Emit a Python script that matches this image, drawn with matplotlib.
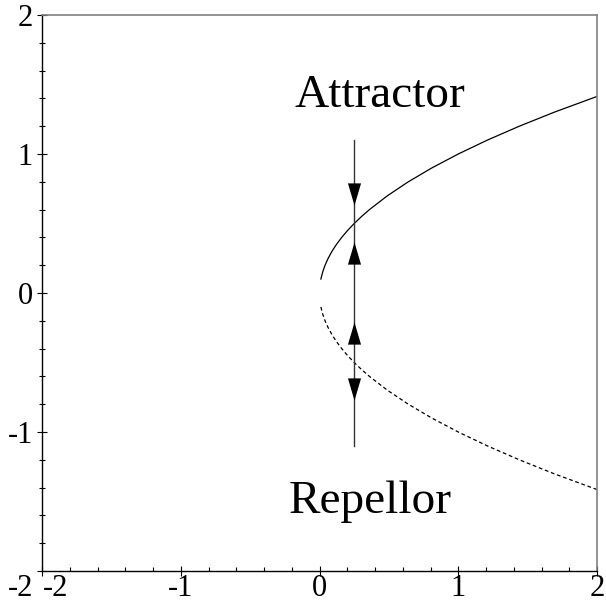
import matplotlib
matplotlib.use("Agg")
import matplotlib.pyplot as plt
from matplotlib.path import Path
import matplotlib.transforms as mtransforms

# ---- data ----
x_ticks = [-2, -1, 0, 1, 2]
y_ticks = [-2, -1, 0, 1, 2]
x_tick_labels = ["-2", "-1", "0", "1", "2"]
y_tick_labels = ["-2", "-1", "0", "1", "2"]

# upper (stable, solid) branch points
upper_x = [0.01, 0.0225, 0.04, 0.0625, 0.09, 0.1225, 0.16, 0.2025, 0.25, 0.3025, 0.36,
           0.49, 0.64, 0.81, 1.0, 1.21, 1.44, 1.69, 2.0]
upper_y = [0.10, 0.15, 0.20, 0.25, 0.30, 0.35, 0.40, 0.45, 0.50, 0.55, 0.60,
           0.70, 0.80, 0.90, 1.00, 1.10, 1.20, 1.30, 1.414]
# lower (unstable, dashed) branch
lower_x = upper_x
lower_y = [-v for v in upper_y]

# vertical flow line
flow_x = 0.25
flow_y = [-1.1, 1.1]
down_arrow_y = [0.71, -0.69]
up_arrow_y = [0.29, -0.285]

label_attractor = "Attractor"
label_repellor = "Repellor"
attractor_pos = (0.436, 1.338)
repellor_pos = (0.368, -1.583)

# ---- figure ----
plt.rcParams['font.family'] = ['Liberation Serif', 'DejaVu Serif']
fig = plt.figure(figsize=(6.06, 6.03), dpi=100)
ax = fig.add_axes([42/606, 32/603, 555/606, 556/603])
ax.set_xlim(-2, 2)
ax.set_ylim(-2, 2)

ax.plot(upper_x, upper_y, color='black', lw=0.9)
ax.plot(lower_x, lower_y, color='black', lw=0.9, dashes=(3, 2.2))
ax.plot([flow_x, flow_x], flow_y, color='#333333', lw=1.0)

up_marker = Path([(0, 1), (-0.59, -1), (0.59, -1), (0, 1)],
                 [Path.MOVETO, Path.LINETO, Path.LINETO, Path.CLOSEPOLY])
down_marker = Path([(0, -1), (-0.59, 1), (0.59, 1), (0, -1)],
                   [Path.MOVETO, Path.LINETO, Path.LINETO, Path.CLOSEPOLY])
ax.plot([flow_x] * len(down_arrow_y), down_arrow_y, linestyle='none',
        marker=down_marker, markersize=16, color='black', markeredgewidth=0)
ax.plot([flow_x] * len(up_arrow_y), up_arrow_y, linestyle='none',
        marker=up_marker, markersize=16, color='black', markeredgewidth=0)

ax.text(*attractor_pos, label_attractor, fontsize=34, ha='center', va='baseline')
ax.text(*repellor_pos, label_repellor, fontsize=34, ha='center', va='baseline')

# spines
for s in ['top', 'right']:
    ax.spines[s].set_color('#808080')
    ax.spines[s].set_linewidth(1.2)
for s in ['left', 'bottom']:
    ax.spines[s].set_color('black')
    ax.spines[s].set_linewidth(1.0)

ax.set_xticks(x_ticks)
ax.set_xticklabels(x_tick_labels)
ax.set_yticks(y_ticks)
ax.set_yticklabels(y_tick_labels)
ax.set_xticks([v / 5 for v in range(-10, 11)], minor=True)
ax.set_yticks([v / 5 for v in range(-10, 11)], minor=True)

ax.tick_params(axis='both', which='major', direction='inout', length=7, width=0.8,
               labelsize=22, top=False, right=False)
ax.tick_params(axis='x', which='minor', direction='in', length=3, width=0.8, top=False)
ax.tick_params(axis='y', which='minor', direction='inout', length=4, width=0.8, right=False)
ax.tick_params(axis='x', which='major', pad=-1)
ax.tick_params(axis='y', which='major', pad=3)

# nudge the corner labels apart like the reference
xl = ax.get_xticklabels()
xl[0].set_transform(xl[0].get_transform() + mtransforms.ScaledTranslation(14/100, 0, fig.dpi_scale_trans))
yl = ax.get_yticklabels()
yl[0].set_transform(yl[0].get_transform() + mtransforms.ScaledTranslation(0, -14/100, fig.dpi_scale_trans))

fig.savefig("out.png", dpi=100)
